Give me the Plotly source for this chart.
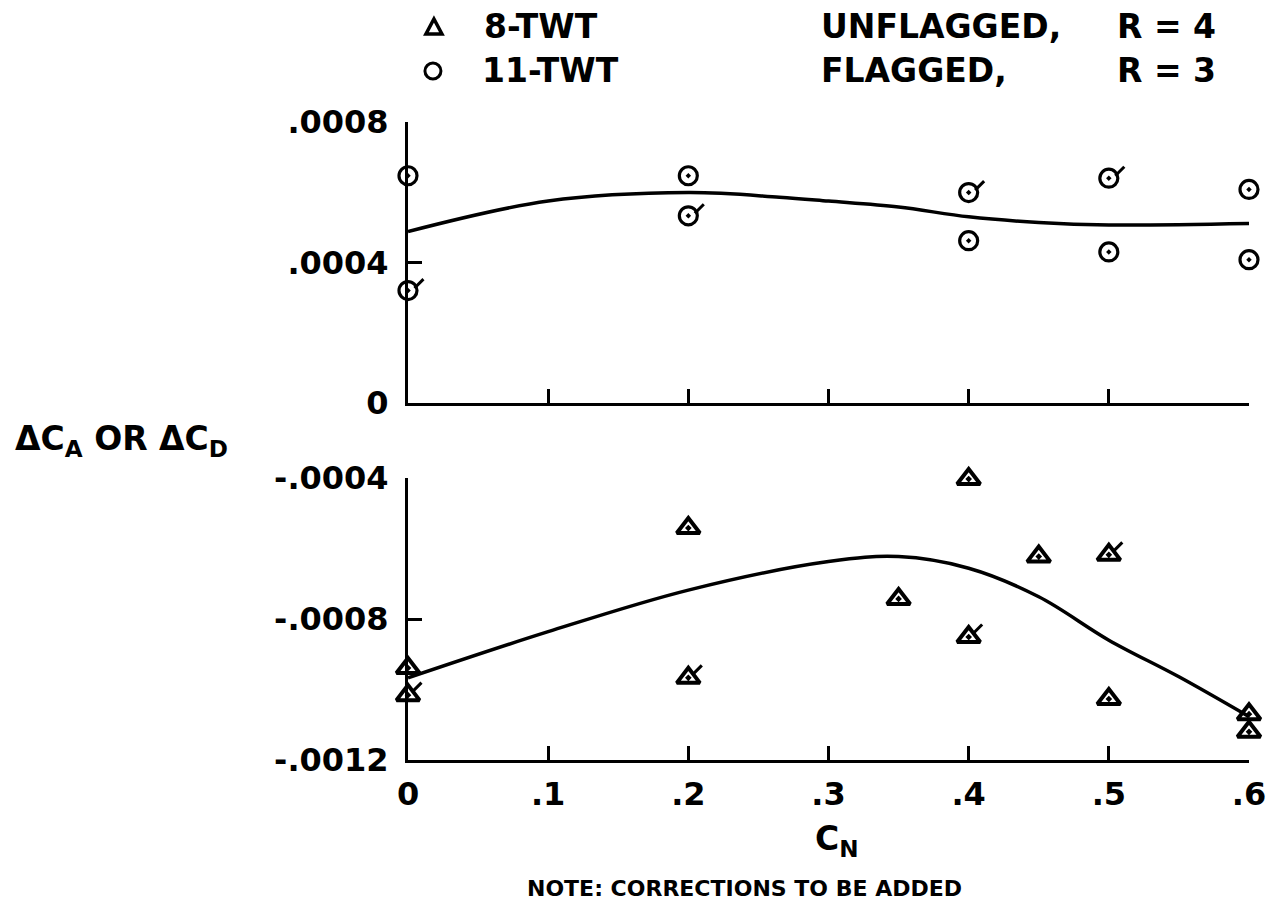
import plotly.graph_objects as go

# ---------------- data ----------------
cn_ticks = [0, 0.1, 0.2, 0.3, 0.4, 0.5, 0.6]
cn_ticktext = ["0", ".1", ".2", ".3", ".4", ".5", ".6"]

up_ticks = [0, 0.0004, 0.0008]
up_ticktext = ["0", ".0004", ".0008"]
lo_ticks = [-0.0012, -0.0008, -0.0004]
lo_ticktext = ["-.0012", "-.0008", "-.0004"]

# 11-TWT (circles), upper panel
c11_unflag_x = [0.0, 0.2, 0.4, 0.5, 0.6]
c11_unflag_y = [0.000647, 0.000647, 0.000462, 0.000430, 0.000408]
c11_flag_x = [0.0, 0.2, 0.4, 0.5, 0.6]
c11_flag_y = [0.000320, 0.000533, 0.000599, 0.000640, 0.000608]

# faired curve, upper panel
up_curve_x = [0.0, 0.1, 0.2, 0.265, 0.3, 0.35, 0.4, 0.45, 0.5, 0.6]
up_curve_y = [0.000488, 0.000575, 0.000599, 0.000586, 0.000575, 0.000558,
              0.000530, 0.000514, 0.000507, 0.000511]

# 8-TWT (triangles), lower panel
t8_unflag_x = [0.0, 0.2, 0.35, 0.4, 0.45, 0.5, 0.6]
t8_unflag_y = [-0.000939, -0.000542, -0.000743, -0.000403, -0.000623,
               -0.001027, -0.001120]
t8_flag_x = [0.0, 0.2, 0.4, 0.5, 0.6]
t8_flag_y = [-0.001016, -0.000967, -0.000851, -0.000618, -0.001070]

# faired curve, lower panel
lo_curve_x = [0.0, 0.1, 0.2, 0.3, 0.35, 0.4, 0.45, 0.5, 0.55, 0.6]
lo_curve_y = [-0.000967, -0.000836, -0.000718, -0.000637, -0.000623,
              -0.000656, -0.000737, -0.000860, -0.000964, -0.001077]

# ---------------- layout geometry ----------------
W, H = 1278, 918
ML, MR, MT, MB = 408, 27, 122, 158
PW = W - ML - MR
PH = H - MT - MB
UP_TOP, UP_BOT = 122, 403
LO_TOP, LO_BOT = 478, 760


def py(p):
    return (H - MB - p) / PH


def px(p):
    return (p - ML) / PW


FONT = "DejaVu Sans"
INK = "black"

# data units per pixel (for flag offsets)
DX = 0.6 / PW
DY_UP = 0.0008 / (UP_BOT - UP_TOP)
DY_LO = 0.0008 / (LO_BOT - LO_TOP)

fig = go.Figure()

# curves
fig.add_trace(go.Scatter(x=up_curve_x, y=up_curve_y, mode="lines",
                         line=dict(color=INK, width=3.5, shape="spline", smoothing=1.0),
                         xaxis="x", yaxis="y", showlegend=False, hoverinfo="skip"))
fig.add_trace(go.Scatter(x=lo_curve_x, y=lo_curve_y, mode="lines",
                         line=dict(color=INK, width=3.5, shape="spline", smoothing=1.0),
                         xaxis="x2", yaxis="y2", showlegend=False, hoverinfo="skip"))

circ = dict(symbol="circle-open-dot", size=18, color=INK, line=dict(color=INK, width=3.2))
tri = dict(symbol="triangle-up-open-dot", size=20, color=INK, line=dict(color=INK, width=4))
flag = dict(symbol="line-ne", size=9, color=INK, line=dict(color=INK, width=3))

fig.add_trace(go.Scatter(x=c11_unflag_x, y=c11_unflag_y, mode="markers", marker=circ,
                         xaxis="x", yaxis="y", cliponaxis=False, showlegend=False))
fig.add_trace(go.Scatter(x=c11_flag_x, y=c11_flag_y, mode="markers", marker=circ,
                         xaxis="x", yaxis="y", cliponaxis=False, showlegend=False))
fig.add_trace(go.Scatter(x=[v + 11 * DX for v in c11_flag_x],
                         y=[v + 7 * DY_UP for v in c11_flag_y],
                         mode="markers", marker=flag,
                         xaxis="x", yaxis="y", cliponaxis=False, showlegend=False,
                         hoverinfo="skip"))

fig.add_trace(go.Scatter(x=t8_unflag_x, y=t8_unflag_y, mode="markers", marker=tri,
                         xaxis="x2", yaxis="y2", cliponaxis=False, showlegend=False))
fig.add_trace(go.Scatter(x=t8_flag_x, y=t8_flag_y, mode="markers", marker=tri,
                         xaxis="x2", yaxis="y2", cliponaxis=False, showlegend=False))
fig.add_trace(go.Scatter(x=[v + 9 * DX for v in t8_flag_x],
                         y=[v + 8 * DY_LO for v in t8_flag_y],
                         mode="markers", marker=flag,
                         xaxis="x2", yaxis="y2", cliponaxis=False, showlegend=False,
                         hoverinfo="skip"))

tickfont = dict(family=FONT, size=32, color=INK, weight="bold")
common_x = dict(range=[0, 0.6], showgrid=False, zeroline=False, showline=True,
                linecolor=INK, linewidth=3, ticks="inside", ticklen=14, tickwidth=3,
                tickcolor=INK, tickvals=cn_ticks, ticktext=cn_ticktext,
                tickfont=tickfont, fixedrange=True)
common_y = dict(showgrid=False, zeroline=False, showline=True, linecolor=INK,
                linewidth=3, ticks="inside", ticklen=14, tickwidth=3, tickcolor=INK,
                tickfont=tickfont, ticklabelstandoff=10, fixedrange=True)

fig.update_layout(
    width=W, height=H,
    margin=dict(l=ML, r=MR, t=MT, b=MB, pad=0),
    paper_bgcolor="white", plot_bgcolor="white",
    showlegend=False,
    xaxis=dict(common_x, domain=[0, 1], anchor="y", showticklabels=False),
    yaxis=dict(common_y, domain=[py(UP_BOT), py(UP_TOP)], anchor="x",
               range=[0, 0.0008], tickvals=up_ticks, ticktext=up_ticktext),
    xaxis2=dict(common_x, domain=[0, 1], anchor="y2", showticklabels=True,
                ticklabelstandoff=4),
    yaxis2=dict(common_y, domain=[py(LO_BOT), py(LO_TOP)], anchor="x2",
                range=[-0.0012, -0.0004], tickvals=lo_ticks, ticktext=lo_ticktext),
)

big = dict(family=FONT, size=33, color=INK, weight="bold")
ann = []


def add(text, x, y, xanchor="left", font=big):
    ann.append(dict(text=text, x=px(x), y=py(y), xref="paper", yref="paper",
                    xanchor=xanchor, yanchor="middle", showarrow=False, font=font))


add("8-TWT", 482, 26)
add("11-TWT", 480, 70)
add("UNFLAGGED,", 820, 26)
add("R = 4", 1117, 26)
add("FLAGGED,", 820, 70)
add("R = 3", 1117, 70)
add("ΔC<sub>A</sub> OR ΔC<sub>D</sub>", 12, 440)
add("C<sub>N</sub>", 838, 840, xanchor="center")
add("NOTE: CORRECTIONS TO BE ADDED", 745, 888, xanchor="center",
    font=dict(family=FONT, size=22, color=INK, weight="bold"))

fig.update_layout(annotations=ann)

# legend key symbols (drawn as small pixel-sized shapes)
fig.add_shape(type="path", xref="paper", yref="paper",
              xsizemode="pixel", ysizemode="pixel", xanchor=px(434), yanchor=py(27),
              path="M -8 -7 L 8 -7 L 0 8 Z",
              line=dict(color=INK, width=3.5), fillcolor="rgba(0,0,0,0)")
fig.add_shape(type="circle", xref="paper", yref="paper",
              xsizemode="pixel", ysizemode="pixel", xanchor=px(433), yanchor=py(71),
              x0=-8, x1=8, y0=-8, y1=8,
              line=dict(color=INK, width=3), fillcolor="rgba(0,0,0,0)")

fig.write_html("out.html", post_script="document.body.style.margin='0';",
               config={"displayModeBar": False})
